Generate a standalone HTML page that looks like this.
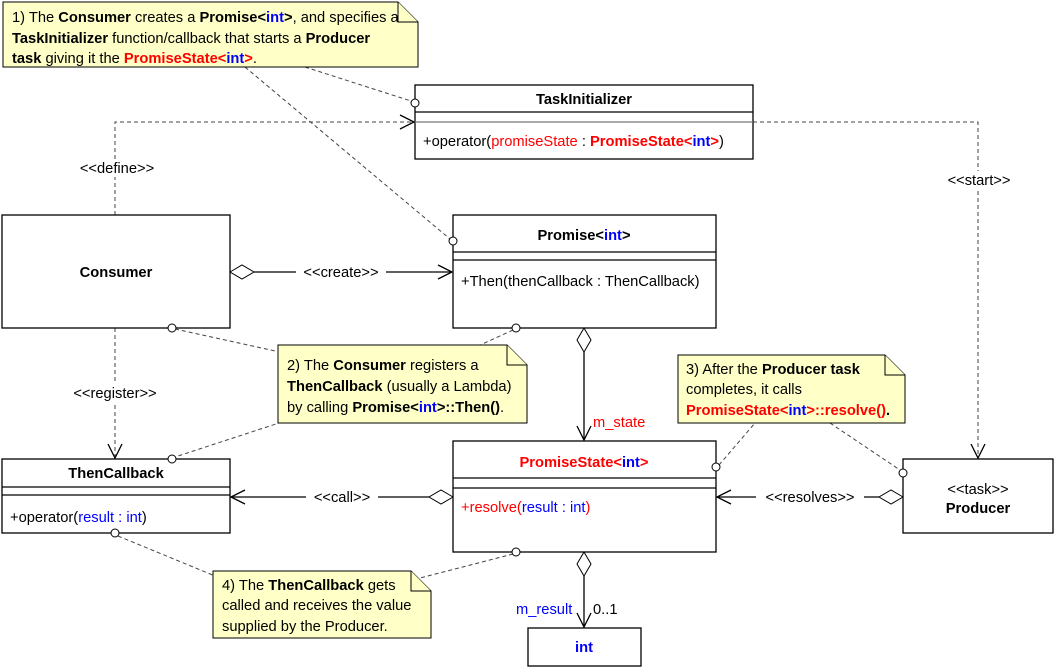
<!DOCTYPE html>
<html><head><meta charset="utf-8"><style>
html,body{margin:0;padding:0;background:#fff;}
svg{display:block;font-family:"Liberation Sans",sans-serif;}
.t{font-size:14.7px;fill:#000;}
.b{font-weight:bold;}
.r{fill:#f00;}
.bl{fill:#00f;}
.box{fill:#fff;stroke:#000;stroke-width:1.3;}
.note{fill:#ffffc8;stroke:#000;stroke-width:1;}
.d{stroke:#444;stroke-width:1;stroke-dasharray:4,3;fill:none;}
.s{stroke:#000;stroke-width:1.3;fill:none;}
.c{fill:#fff;stroke:#000;stroke-width:1;}
</style></head><body>
<svg width="1056" height="669" viewBox="0 0 1056 669">
<path class="d" d="M115 215 V122 H412"/>
<path class="s" d="M400 115 L414 122 L400 129"/>
<path class="d" d="M753 122 H978 V456"/>
<path class="s" d="M971 444 L978 458 L985 444"/>
<path class="d" d="M115 328 V456"/>
<path class="s" d="M108 444 L115 458 L122 444"/>
<rect x="68" y="159" width="98" height="18" fill="#fff"/>
<text class="t" x="117" y="173" text-anchor="middle">&lt;&lt;define&gt;&gt;</text>
<rect x="946" y="171" width="66" height="18" fill="#fff"/>
<text class="t" x="979" y="185" text-anchor="middle">&lt;&lt;start&gt;&gt;</text>
<rect x="62" y="384" width="106" height="18" fill="#fff"/>
<text class="t" x="115" y="398" text-anchor="middle">&lt;&lt;register&gt;&gt;</text>
<path class="d" d="M305 67 L411 101"/>
<path class="d" d="M245 67 L450 239"/>
<path class="d" d="M175 329 L280 352"/>
<path class="d" d="M513 330 L478 346"/>
<path class="d" d="M282 422 L175 457"/>
<path class="d" d="M719 465 L755 423"/>
<path class="d" d="M830 423 L900 470"/>
<path class="d" d="M118 536 L215 576"/>
<path class="d" d="M513 554 L420 578"/>
<path class="s" d="M254 272 H452"/>
<path class="s" d="M438 265 L452 272 L438 279"/>
<path class="s" d="M584 352 V440"/>
<path class="s" d="M577 426 L584 440 L591 426"/>
<path class="s" d="M429 497 H231"/>
<path class="s" d="M245 490 L231 497 L245 504"/>
<path class="s" d="M879 497 H717"/>
<path class="s" d="M731 490 L717 497 L731 504"/>
<path class="s" d="M584 576 V627"/>
<path class="s" d="M577 613 L584 627 L591 613"/>
<path class="c" d="M230 272 L242 265 L254 272 L242 279 Z"/>
<path class="c" d="M584 328 L591 340 L584 352 L577 340 Z"/>
<path class="c" d="M453 497 L441 490 L429 497 L441 504 Z"/>
<path class="c" d="M903 497 L891 490 L879 497 L891 504 Z"/>
<path class="c" d="M584 552 L591 564 L584 576 L577 564 Z"/>
<rect x="296" y="263" width="90" height="18" fill="#fff"/>
<text class="t" x="341" y="277" text-anchor="middle">&lt;&lt;create&gt;&gt;</text>
<rect x="306" y="488" width="72" height="18" fill="#fff"/>
<text class="t" x="342" y="502" text-anchor="middle">&lt;&lt;call&gt;&gt;</text>
<rect x="756" y="488" width="108" height="18" fill="#fff"/>
<text class="t" x="810" y="502" text-anchor="middle">&lt;&lt;resolves&gt;&gt;</text>
<text class="t r" x="593" y="427">m_state</text>
<text class="t bl" x="516" y="614">m_result</text>
<text class="t" x="593" y="614">0..1</text>
<rect class="box" x="415" y="85" width="338" height="74"/>
<line class="s" x1="415" y1="112" x2="753" y2="112"/>
<line x1="415" y1="122" x2="753" y2="122" stroke="#777" stroke-width="1.3"/>
<text class="t b" x="584" y="104" text-anchor="middle">TaskInitializer</text>
<text class="t" x="423" y="146">+operator(<tspan class="r">promiseState</tspan> : <tspan class="r b">PromiseState&lt;</tspan><tspan class="bl b">int</tspan><tspan class="r b">&gt;</tspan>)</text>
<rect class="box" x="2" y="215" width="228" height="113"/>
<text class="t b" x="116" y="277" text-anchor="middle">Consumer</text>
<rect class="box" x="453" y="215" width="263" height="113"/>
<line class="s" x1="453" y1="252" x2="716" y2="252"/>
<line class="s" x1="453" y1="260" x2="716" y2="260"/>
<text class="t b" x="584" y="240" text-anchor="middle">Promise&lt;<tspan class="bl">int</tspan>&gt;</text>
<text class="t" x="461" y="286">+Then(thenCallback : ThenCallback)</text>
<rect class="box" x="2" y="459" width="228" height="74"/>
<line class="s" x1="2" y1="487" x2="230" y2="487"/>
<line class="s" x1="2" y1="495" x2="230" y2="495"/>
<text class="t b" x="116" y="478" text-anchor="middle">ThenCallback</text>
<text class="t" x="10" y="522">+operator(<tspan class="bl">result : int</tspan>)</text>
<rect class="box" x="453" y="441" width="263" height="111"/>
<line class="s" x1="453" y1="478" x2="716" y2="478"/>
<line class="s" x1="453" y1="488" x2="716" y2="488"/>
<text class="t b r" x="584" y="467" text-anchor="middle">PromiseState&lt;<tspan class="bl">int</tspan>&gt;</text>
<text class="t r" x="461" y="512">+resolve(<tspan class="bl">result : int</tspan>)</text>
<rect class="box" x="903" y="459" width="150" height="74"/>
<text class="t" x="978" y="494" text-anchor="middle">&lt;&lt;task&gt;&gt;</text>
<text class="t b" x="978" y="513" text-anchor="middle">Producer</text>
<rect class="box" x="528" y="628" width="113" height="38"/>
<text class="t b bl" x="584" y="652" text-anchor="middle">int</text>
<circle class="c" cx="415" cy="103" r="4"/>
<circle class="c" cx="453" cy="241" r="4"/>
<circle class="c" cx="172" cy="328" r="4"/>
<circle class="c" cx="516" cy="328" r="4"/>
<circle class="c" cx="172" cy="459" r="4"/>
<circle class="c" cx="716" cy="467" r="4"/>
<circle class="c" cx="903" cy="473" r="4"/>
<circle class="c" cx="115" cy="533" r="4"/>
<circle class="c" cx="516" cy="552" r="4"/>
<path class="note" d="M3 2 H398 L418 22 V67 H3 Z"/>
<path class="note" d="M398 2 V22 H418"/>
<text class="t" x="12" y="22">1) The <tspan class="b">Consumer</tspan> creates a <tspan class="b">Promise&lt;<tspan class="bl">int</tspan>&gt;</tspan>, and specifies a</text>
<text class="t" x="12" y="43"><tspan class="b">TaskInitializer</tspan> function/callback that starts a <tspan class="b">Producer</tspan></text>
<text class="t" x="12" y="63"><tspan class="b">task</tspan> giving it the <tspan class="b r">PromiseState&lt;<tspan class="bl">int</tspan>&gt;</tspan>.</text>
<path class="note" d="M278 345 H507 L527 365 V423 H278 Z"/>
<path class="note" d="M507 345 V365 H527"/>
<text class="t" x="287" y="370">2) The <tspan class="b">Consumer</tspan> registers a</text>
<text class="t" x="287" y="391"><tspan class="b">ThenCallback</tspan> (usually a Lambda)</text>
<text class="t" x="287" y="412">by calling <tspan class="b">Promise&lt;<tspan class="bl">int</tspan>&gt;::Then()</tspan>.</text>
<path class="note" d="M678 355 H885 L905 375 V423 H678 Z"/>
<path class="note" d="M885 355 V375 H905"/>
<text class="t" x="686" y="374">3) After the <tspan class="b">Producer task</tspan></text>
<text class="t" x="686" y="394">completes, it calls</text>
<text class="t b r" x="686" y="415">PromiseState&lt;<tspan class="bl">int</tspan>&gt;::resolve()<tspan fill="#000">.</tspan></text>
<path class="note" d="M213 571 H411 L431 591 V638 H213 Z"/>
<path class="note" d="M411 571 V591 H431"/>
<text class="t" x="222" y="590">4) The <tspan class="b">ThenCallback</tspan> gets</text>
<text class="t" x="222" y="610">called and receives the value</text>
<text class="t" x="222" y="631">supplied by the Producer.</text>
</svg>
</body></html>
